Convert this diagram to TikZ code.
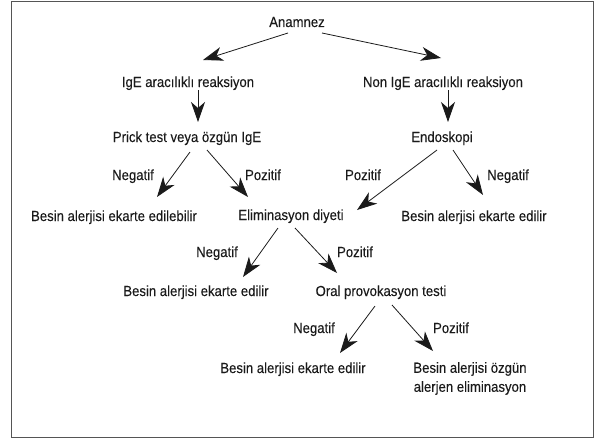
\documentclass[tikz,border=0pt]{standalone}
\usepackage{fontspec}
\setmainfont{Liberation Sans}[FakeStretch=0.9,FakeBold=0.15]
\usetikzlibrary{arrows.meta,calc}
\definecolor{ink}{HTML}{1A1A1A}
\definecolor{framec}{HTML}{555555}
\begin{document}
\begin{tikzpicture}[x=1pt,y=-1pt,
  lbl/.style={anchor=base,inner sep=0pt,text=ink,font=\fontsize{14.6}{19}\selectfont},
  arr/.style={draw=ink,line width=0.8pt,-{Stealth[length=20pt,width=14pt,inset=6pt]}}]
\useasboundingbox (0,0) rectangle (595,439);
\draw[framec,line width=1.4pt] (11.5,1.2) rectangle (593.5,437.5);
\node[lbl] (anam) at (297,27) {Anamnez};
\node[lbl] (ige) at (188,87) {IgE aracılıklı reaksiyon};
\node[lbl] (nonige) at (443,87) {Non IgE aracılıklı reaksiyon};
\node[lbl] (prick) at (187,142) {Prick test veya özgün IgE};
\node[lbl] (endo) at (442,142) {Endoskopi};
\node[lbl] (neg1) at (133,180) {Negatif};
\node[lbl] (poz1) at (263,180) {Pozitif};
\node[lbl] (poz2) at (363,180) {Pozitif};
\node[lbl] (neg2) at (508,180) {Negatif};
\node[lbl] (bes1) at (114,221) {Besin alerjisi ekarte edilebilir};
\node[lbl] (elim) at (291,220) {Eliminasyon diyeti};
\node[lbl] (bes2) at (474,221) {Besin alerjisi ekarte edilir};
\node[lbl] (neg3) at (217,257) {Negatif};
\node[lbl] (poz3) at (355,257) {Pozitif};
\node[lbl] (bes3) at (196,296) {Besin alerjisi ekarte edilir};
\node[lbl] (oral) at (381,296) {Oral provokasyon testi};
\node[lbl] (neg4) at (314,333) {Negatif};
\node[lbl] (poz4) at (451,333) {Pozitif};
\node[lbl] (bes4) at (293,373) {Besin alerjisi ekarte edilir};
\node[lbl,anchor=north,align=center] (bes5) at (470,362) {Besin alerjisi özgün\\ alerjen eliminasyon};
\draw[arr] ($(anam.base)+(-9,6)$) -- ($(ige.base)+(15,-27)$);
\draw[arr] ($(anam.base)+(25,6)$) -- ($(nonige.base)+(-2,-29)$);
\draw[arr] ($(ige.base)+(10,3)$) -- ($(prick.base)+(11,-20)$);
\draw[arr] ($(nonige.base)+(5,3)$) -- ($(endo.base)+(6,-20)$);
\draw[arr] ($(prick.base)+(3,10)$) -- ($(bes1.base)+(43,-24)$);
\draw[arr] ($(prick.base)+(20,8)$) -- ($(elim.base)+(-43,-23)$);
\draw[arr] ($(endo.base)+(-5,8)$) -- ($(elim.base)+(66,-10)$);
\draw[arr] ($(endo.base)+(11,8)$) -- ($(bes2.base)+(9,-26)$);
\draw[arr] ($(elim.base)+(-13,8)$) -- ($(bes3.base)+(47,-19)$);
\draw[arr] ($(elim.base)+(4,8)$) -- ($(oral.base)+(-44,-23)$);
\draw[arr] ($(oral.base)+(-6,10)$) -- ($(bes4.base)+(47,-20)$);
\draw[arr] ($(oral.base)+(11,9)$) -- ($(bes5.north)+(-37,-11)$);
\end{tikzpicture}
\end{document}
